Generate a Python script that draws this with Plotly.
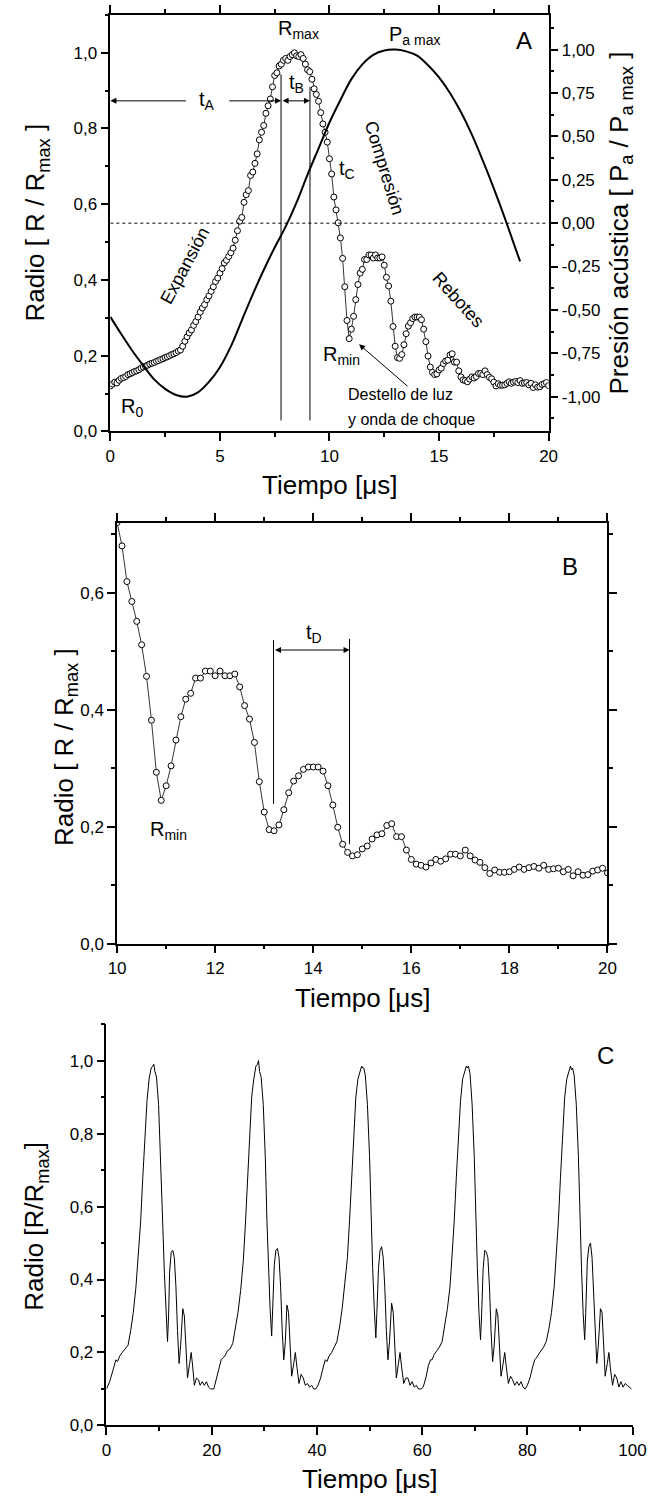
import plotly.graph_objects as go

# ---------------- data ----------------
# Panel A/B : bubble radius (R/Rmax), sampled every 0.1 us from 0 to 20 us
radius_time = [round(i * 0.1, 1) for i in range(201)]
radius_vals = [
    0.120, 0.125, 0.130, 0.128, 0.135, 0.140, 0.142, 0.145, 0.150, 0.152,
    0.155, 0.158, 0.160, 0.163, 0.167, 0.170, 0.172, 0.175, 0.178, 0.180,
    0.182, 0.185, 0.187, 0.190, 0.192, 0.195, 0.197, 0.200, 0.203, 0.205,
    0.208, 0.212, 0.215, 0.225, 0.238, 0.250, 0.260, 0.268, 0.280, 0.290,
    0.302, 0.315, 0.326, 0.335, 0.348, 0.358, 0.370, 0.382, 0.396, 0.405,
    0.418, 0.430, 0.445, 0.452, 0.462, 0.472, 0.484, 0.505, 0.530, 0.555,
    0.565, 0.605, 0.625, 0.636, 0.676, 0.685, 0.708, 0.733, 0.770, 0.790,
    0.808, 0.840, 0.860, 0.878, 0.910, 0.940, 0.947, 0.965, 0.970, 0.980,
    0.985, 0.980, 0.990, 0.995, 1.000, 0.992, 0.990, 0.995, 0.985, 0.970,
    0.955, 0.950, 0.930, 0.905, 0.890, 0.872, 0.842, 0.812, 0.790, 0.764,
    0.720, 0.680, 0.619, 0.585, 0.551, 0.511, 0.457, 0.382, 0.293, 0.245,
    0.270, 0.304, 0.348, 0.388, 0.418, 0.428, 0.454, 0.454, 0.466, 0.466,
    0.458, 0.466, 0.458, 0.458, 0.461, 0.439, 0.407, 0.384, 0.344, 0.277,
    0.225, 0.195, 0.193, 0.203, 0.229, 0.258, 0.278, 0.287, 0.298, 0.302,
    0.302, 0.302, 0.295, 0.270, 0.237, 0.199, 0.170, 0.156, 0.150, 0.152,
    0.162, 0.167, 0.179, 0.186, 0.188, 0.202, 0.205, 0.183, 0.183, 0.160,
    0.144, 0.136, 0.134, 0.131, 0.138, 0.144, 0.141, 0.145, 0.153, 0.153,
    0.150, 0.160, 0.150, 0.143, 0.139, 0.130, 0.120, 0.126, 0.122, 0.122,
    0.123, 0.127, 0.131, 0.127, 0.130, 0.132, 0.129, 0.134, 0.127, 0.128,
    0.129, 0.123, 0.127, 0.116, 0.123, 0.117, 0.118, 0.124, 0.126, 0.129,
    0.121,
]

# Panel A : acoustic pressure (Pa/Pa max)
pressure_time = [0.0, 0.5, 1.0, 1.5, 2.0, 2.5, 3.0, 3.5, 4.0, 4.5, 5.0, 5.5,
                 6.0, 6.5, 7.0, 7.5, 8.0, 8.5, 9.0, 9.5, 10.0, 10.5, 11.0,
                 11.5, 12.0, 12.5, 13.0, 13.5, 14.0, 14.5, 15.0, 15.5, 16.0,
                 16.5, 17.0, 17.5, 18.0, 18.5, 18.7]
pressure_vals = [-0.54, -0.64, -0.735, -0.82, -0.90, -0.955, -0.99, -1.0,
                 -0.975, -0.915, -0.83, -0.71, -0.56, -0.41, -0.27, -0.14,
                 -0.02, 0.12, 0.28, 0.43, 0.58, 0.71, 0.83, 0.915, 0.97,
                 0.995, 1.0, 0.99, 0.965, 0.91, 0.84, 0.75, 0.64, 0.51, 0.36,
                 0.20, 0.03, -0.15, -0.22]

# Panel C : five consecutive cycles
c_time = [
    0.0, 0.6, 1.2, 1.8, 2.1, 2.5, 3.0, 3.6, 4.1, 4.6, 5.1, 5.6, 6.1, 6.5, 6.9,
    7.3, 7.7, 8.1, 8.5, 8.8, 9.0, 9.2, 9.5, 9.9, 10.3, 10.7, 11.0, 11.3, 11.6,
    11.8, 12.0, 12.3, 12.6, 12.9, 13.2, 13.5, 13.8, 14.1, 14.5, 14.8, 15.1,
    15.4, 15.8, 16.1, 16.4, 16.7, 17.1, 17.5, 17.8, 18.2, 18.6, 19.0, 19.4,
    19.8,
    20.4, 20.9, 21.4, 21.8, 22.1, 22.5, 23.0, 23.5, 24.0, 24.5, 25.0, 25.5,
    26.0, 26.4, 26.8, 27.2, 27.6, 28.0, 28.4, 28.7, 28.9, 29.1, 29.4, 29.8,
    30.2, 30.5, 30.8, 31.1, 31.4, 31.6, 31.9, 32.2, 32.5, 32.8, 33.1, 33.4,
    33.7, 34.0, 34.3, 34.6, 34.9, 35.2, 35.6, 35.9, 36.2, 36.6, 37.0, 37.4,
    37.8, 38.2, 38.6, 39.0, 39.4, 39.8,
    40.2, 40.7, 41.2, 41.6, 41.9, 42.3, 42.8, 43.3, 43.8, 44.3, 44.8, 45.3,
    45.8, 46.2, 46.6, 47.0, 47.4, 47.8, 48.2, 48.5, 48.7, 48.9, 49.2, 49.6,
    50.0, 50.3, 50.6, 50.9, 51.2, 51.4, 51.7, 52.0, 52.3, 52.6, 52.9, 53.2,
    53.5, 53.8, 54.2, 54.5, 54.8, 55.1, 55.5, 55.8, 56.1, 56.5, 56.9, 57.3,
    57.7, 58.1, 58.5, 58.9, 59.3, 59.8,
    60.2, 60.7, 61.2, 61.6, 61.9, 62.3, 62.8, 63.3, 63.8, 64.3, 64.8, 65.3,
    65.7, 66.1, 66.5, 66.9, 67.3, 67.7, 68.1, 68.4, 68.6, 68.8, 69.1, 69.5,
    69.9, 70.2, 70.5, 70.8, 71.1, 71.3, 71.6, 71.9, 72.2, 72.5, 72.8, 73.1,
    73.4, 73.7, 74.1, 74.4, 74.7, 75.0, 75.4, 75.7, 76.0, 76.4, 76.8, 77.2,
    77.6, 78.0, 78.4, 78.8, 79.2, 79.6,
    80.0, 80.5, 81.0, 81.4, 81.7, 82.1, 82.6, 83.1, 83.6, 84.1, 84.6, 85.1,
    85.5, 85.9, 86.3, 86.7, 87.1, 87.5, 87.9, 88.2, 88.4, 88.6, 88.9, 89.3,
    89.7, 90.0, 90.3, 90.6, 90.9, 91.1, 91.4, 91.7, 92.0, 92.3, 92.6, 92.9,
    93.2, 93.5, 93.9, 94.2, 94.5, 94.8, 95.2, 95.5, 95.8, 96.2, 96.6, 97.0,
    97.4, 97.8, 98.2, 98.6, 99.0, 99.4, 99.8,
]
c_vals = [
    0.10, 0.12, 0.15, 0.18, 0.175, 0.19, 0.20, 0.21, 0.22, 0.26, 0.31, 0.38,
    0.47, 0.56, 0.68, 0.80, 0.89, 0.95, 0.98, 0.985, 0.99, 0.97, 0.955, 0.88,
    0.74, 0.55, 0.42, 0.31, 0.23, 0.30, 0.42, 0.475, 0.48, 0.46, 0.38, 0.26,
    0.17, 0.22, 0.32, 0.30, 0.20, 0.13, 0.17, 0.20, 0.16, 0.11, 0.13, 0.125,
    0.11, 0.12, 0.11, 0.12, 0.105, 0.10,
    0.10, 0.13, 0.155, 0.18, 0.185, 0.19, 0.205, 0.21, 0.225, 0.265, 0.31,
    0.37, 0.45, 0.55, 0.67, 0.80, 0.90, 0.95, 0.985, 0.99, 1.0, 0.97, 0.955,
    0.88, 0.73, 0.56, 0.43, 0.32, 0.245, 0.31, 0.44, 0.48, 0.485, 0.46, 0.38,
    0.26, 0.18, 0.23, 0.33, 0.31, 0.21, 0.135, 0.17, 0.20, 0.16, 0.115, 0.14,
    0.13, 0.11, 0.115, 0.105, 0.11, 0.10, 0.10,
    0.11, 0.13, 0.16, 0.18, 0.175, 0.19, 0.20, 0.215, 0.23, 0.27, 0.32, 0.39,
    0.46, 0.56, 0.68, 0.80, 0.90, 0.95, 0.975, 0.985, 0.98, 0.98, 0.96, 0.88,
    0.74, 0.57, 0.43, 0.32, 0.24, 0.31, 0.43, 0.48, 0.49, 0.46, 0.38, 0.26,
    0.18, 0.23, 0.335, 0.31, 0.21, 0.13, 0.17, 0.20, 0.16, 0.115, 0.13, 0.13,
    0.11, 0.12, 0.105, 0.11, 0.10, 0.10,
    0.105, 0.13, 0.165, 0.18, 0.18, 0.195, 0.205, 0.215, 0.23, 0.27, 0.32,
    0.38, 0.46, 0.56, 0.68, 0.80, 0.89, 0.95, 0.975, 0.985, 0.98, 0.985,
    0.965, 0.88, 0.74, 0.56, 0.43, 0.31, 0.235, 0.30, 0.43, 0.48, 0.475, 0.46,
    0.38, 0.26, 0.175, 0.22, 0.32, 0.30, 0.21, 0.135, 0.17, 0.20, 0.16, 0.115,
    0.135, 0.125, 0.11, 0.12, 0.11, 0.12, 0.105, 0.10,
    0.11, 0.13, 0.16, 0.18, 0.185, 0.195, 0.205, 0.215, 0.23, 0.265, 0.31,
    0.38, 0.46, 0.56, 0.68, 0.80, 0.90, 0.95, 0.975, 0.985, 0.975, 0.98, 0.96,
    0.88, 0.74, 0.56, 0.43, 0.31, 0.235, 0.31, 0.45, 0.49, 0.50, 0.46, 0.37,
    0.25, 0.17, 0.22, 0.32, 0.31, 0.21, 0.135, 0.17, 0.20, 0.155, 0.11, 0.14,
    0.13, 0.105, 0.12, 0.105, 0.115, 0.11, 0.105, 0.10,
]

pressure_tickvals = [-1.0, -0.75, -0.5, -0.25, 0.0, 0.25, 0.5, 0.75, 1.0]
pressure_ticktext = ["-1,00", "-0,75", "-0,50", "-0,25", "0,00", "0,25",
                     "0,50", "0,75", "1,00"]

# ---------------- figure ----------------
W, H = 662, 1504
FONT = "Liberation Sans"


def fx(px):
    return px / W


def fy(py):
    return 1 - py / H


fig = go.Figure()

circ = dict(symbol="circle", size=6, color="white",
            line=dict(color="black", width=1))

fig.add_trace(go.Scatter(x=radius_time, y=radius_vals, mode="lines+markers",
                         line=dict(color="black", width=0.8), marker=circ,
                         xaxis="x", yaxis="y"))
fig.add_trace(go.Scatter(x=pressure_time, y=pressure_vals, mode="lines",
                         line=dict(color="black", width=2, shape="spline",
                                   smoothing=1.0),
                         xaxis="x", yaxis="y4"))
b_time = [t for t in radius_time if t >= 10.0]
b_vals = radius_vals[len(radius_time) - len(b_time):]
fig.add_trace(go.Scatter(x=b_time, y=b_vals, mode="lines+markers",
                         line=dict(color="black", width=0.8), marker=circ,
                         xaxis="x2", yaxis="y2"))
fig.add_trace(go.Scatter(x=c_time, y=c_vals, mode="lines",
                         line=dict(color="black", width=1),
                         xaxis="x3", yaxis="y3"))

tickfont = dict(family=FONT, size=17, color="black")


def axis(**kw):
    d = dict(showline=True, linecolor="black", linewidth=1.5,
             ticks="outside", ticklen=8, tickwidth=1.5, tickcolor="black",
             showgrid=False, zeroline=False, tickfont=tickfont,
             fixedrange=True)
    d.update(kw)
    return d


def minor(dt):
    return dict(ticks="outside", ticklen=4, tickwidth=1.5,
                tickcolor="black", dtick=dt, showgrid=False)


A_X = [fx(105), fx(559)]
A_Y = [fy(434.3), fy(15)]
B_X = [fx(112), fx(620)]
B_Y = [fy(950), fy(526)]
C_X = [fx(101), fx(646)]
C_Y = [fy(1435), fy(1031)]

fig.update_layout(
    width=W, height=H, margin=dict(l=0, r=0, t=0, b=0),
    paper_bgcolor="white", plot_bgcolor="white", showlegend=False,
    separators=", ",
    font=dict(family=FONT, color="black"),
    xaxis=axis(domain=A_X, range=[0, 20], dtick=5, tick0=0, anchor="y",
               mirror="ticks", minor=minor(2.5)),
    yaxis=axis(domain=A_Y, range=[0, 1.1], dtick=0.2, tick0=0,
               tickformat=".1f", anchor="x", minor=minor(0.1)),
    yaxis4=axis(overlaying="y", side="right", anchor="x", range=[-1.2, 1.2],
                tickvals=pressure_tickvals, ticktext=pressure_ticktext,
                minor=minor(0.125)),
    xaxis2=axis(domain=B_X, range=[10, 20], dtick=2, tick0=10, anchor="y2",
                mirror="ticks", minor=minor(1)),
    yaxis2=axis(domain=B_Y, range=[0, 0.72], dtick=0.2, tick0=0,
                tickformat=".1f", anchor="x2", mirror="ticks",
                minor=minor(0.1)),
    xaxis3=axis(domain=C_X, range=[0, 100], dtick=20, tick0=0, anchor="y3",
                minor=minor(10)),
    yaxis3=axis(domain=C_Y, range=[0, 1.1], dtick=0.2, tick0=0,
                tickformat=".1f", anchor="x3", minor=minor(0.1)),
)

shapes = [
    # dotted zero-pressure line
    dict(type="line", xref="x", yref="y4", x0=0, x1=20, y0=0, y1=0,
         line=dict(color="black", width=1, dash="dot")),
    # tA / tB markers
    dict(type="line", xref="x", yref="y", x0=7.79, x1=7.79, y0=0.029,
         y1=0.943, line=dict(color="black", width=1)),
    dict(type="line", xref="x", yref="y", x0=9.11, x1=9.11, y0=0.029,
         y1=0.91, line=dict(color="black", width=1)),
    # tD markers
    dict(type="line", xref="x2", yref="y2", x0=13.19, x1=13.19, y0=0.239,
         y1=0.519, line=dict(color="black", width=1)),
    dict(type="line", xref="x2", yref="y2", x0=14.74, x1=14.74, y0=0.17,
         y1=0.521, line=dict(color="black", width=1)),
]
fig.update_layout(shapes=shapes)

ann = []


def txt(text, x, y, xref, yref, size=20, angle=0, xanchor="center"):
    ann.append(dict(text=text, x=x, y=y, xref=xref, yref=yref,
                    showarrow=False, textangle=angle, xanchor=xanchor,
                    yanchor="middle",
                    font=dict(family=FONT, size=size, color="black")))


def arrow(x, y, ax, ay, xref, yref, both=False):
    ann.append(dict(text="", x=x, y=y, ax=ax, ay=ay, xref=xref, yref=yref,
                    axref=xref, ayref=yref, showarrow=True, arrowhead=2,
                    arrowsize=1.2, arrowwidth=1, arrowcolor="black",
                    arrowside="end+start" if both else "end",
                    standoff=0, startstandoff=0))


# Panel A texts
txt("R<sub>max</sub>", 8.59, 1.061, "x", "y", 20)
txt("P<sub>a max</sub>", 13.88, 1.045, "x", "y", 20)
txt("A", 18.9, 1.032, "x", "y", 24)
txt("t<sub>A</sub>", 4.41, 0.875, "x", "y", 20)
txt("t<sub>B</sub>", 8.5, 0.919, "x", "y", 20)
txt("t<sub>C</sub>", 10.79, 0.691, "x", "y", 20)
txt("Compresión", 12.51, 0.696, "x", "y", 18, angle=73)
txt("Expansión", 3.39, 0.437, "x", "y", 18, angle=-62)
txt("Rebotes", 15.9, 0.348, "x", "y", 18, angle=48)
txt("R<sub>min</sub>", 10.57, 0.20, "x", "y", 20)
txt("R<sub>0</sub>", 0.97, 0.064, "x", "y", 20)
txt("Destello de luz", 10.75, 0.097, "x", "y", 16, xanchor="left")
txt("y onda de choque", 10.75, 0.031, "x", "y", 16, xanchor="left")
arrow(0, 0.873, 3.52, 0.873, "x", "y")
arrow(7.79, 0.873, 5.36, 0.873, "x", "y")
arrow(9.11, 0.873, 7.79, 0.873, "x", "y", both=True)
arrow(11.35, 0.23, 13.63, 0.116, "x", "y")

# Panel B texts
txt("B", 19.23, 0.645, "x2", "y2", 24)
txt("t<sub>D</sub>", 14.02, 0.531, "x2", "y2", 20)
txt("R<sub>min</sub>", 11.04, 0.194, "x2", "y2", 20)
arrow(14.74, 0.502, 13.19, 0.502, "x2", "y2", both=True)

# Panel C text
txt("C", 94.9, 1.015, "x3", "y3", 24)

# axis titles (paper coordinates)
TS = 26
radio = "Radio [ R / R<sub>max</sub> ]"
txt(radio, fx(29), fy(224), "paper", "paper", TS, angle=-90)
txt("Presión acústica [ P<sub>a</sub> / P<sub>a max</sub> ]", fx(633),
    fy(225), "paper", "paper", TS, angle=-90)
txt("Tiempo [μs]", fx(332), fy(488), "paper", "paper", TS)
txt(radio, fx(58), fy(752), "paper", "paper", TS, angle=-90)
txt("Tiempo [μs]", fx(366), fy(1005), "paper", "paper", TS)
txt("Radio [R/R<sub>max</sub>]", fx(28), fy(1235), "paper", "paper", TS,
    angle=-90)
txt("Tiempo [μs]", fx(373), fy(1489), "paper", "paper", TS)

fig.update_layout(annotations=ann)

fig.write_html("out.html", include_plotlyjs=True,
               config={"displayModeBar": False},
               post_script="document.body.style.margin='0';"
                           "document.body.style.overflow='hidden';")
